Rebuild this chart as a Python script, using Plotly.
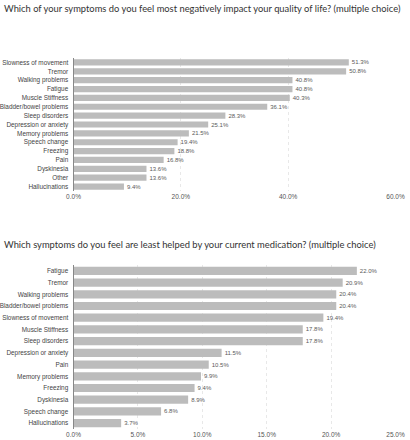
import plotly.graph_objects as go

title_top = "Which of your symptoms do you feel most negatively impact your quality of life? (multiple choice)"
cats_top = ["Slowness of movement", "Tremor", "Walking problems", "Fatigue", "Muscle Stiffness",
            "Bladder/bowel problems", "Sleep disorders", "Depression or anxiety", "Memory problems",
            "Speech change", "Freezing", "Pain", "Dyskinesia", "Other", "Hallucinations"]
vals_top = [51.3, 50.8, 40.8, 40.8, 40.3, 36.1, 28.3, 25.1, 21.5, 19.4, 18.8, 16.8, 13.6, 13.6, 9.4]
ticks_top = [0, 20, 40, 60]

title_bot = "Which symptoms do you feel are least helped by your current medication? (multiple choice)"
cats_bot = ["Fatigue", "Tremor", "Walking problems", "Bladder/bowel problems", "Slowness of movement",
            "Muscle Stiffness", "Sleep disorders", "Depression or anxiety", "Pain", "Memory problems",
            "Freezing", "Dyskinesia", "Speech change", "Hallucinations"]
vals_bot = [22.0, 20.9, 20.4, 20.4, 19.4, 17.8, 17.8, 11.5, 10.5, 9.9, 9.4, 8.9, 6.8, 3.7]
ticks_bot = [0, 5, 10, 15, 20, 25]

W, H = 410, 440
BAR = "#bcbcbc"
LBL = "Liberation Sans"

fig = go.Figure()
fig.add_trace(go.Bar(x=vals_top, y=cats_top, orientation="h", marker=dict(color=BAR, line=dict(width=0)),
                     text=[f"{v:.1f}%" for v in vals_top], textposition="outside",
                     textfont=dict(size=6, color="#5a5a5a", family=LBL), cliponaxis=False,
                     xaxis="x", yaxis="y", hoverinfo="skip"))
fig.add_trace(go.Bar(x=vals_bot, y=cats_bot, orientation="h", marker=dict(color=BAR, line=dict(width=0)),
                     text=[f"{v:.1f}%" for v in vals_bot], textposition="outside",
                     textfont=dict(size=6, color="#5a5a5a", family=LBL), cliponaxis=False,
                     xaxis="x2", yaxis="y2", hoverinfo="skip"))

x0, x1 = 73.5 / W, 395.5 / W
def ydom(top_px, bot_px):
    return [1 - bot_px / H, 1 - top_px / H]

axis_common = dict(showgrid=True, gridcolor="#e8e8e8", gridwidth=1, griddash="dot", zeroline=False,
                   ticks="", tickfont=dict(size=6.5, color="#555", family=LBL), showline=False,
                   automargin=False)
yaxis_common = dict(autorange="reversed", showgrid=False, automargin=False,
                    tickfont=dict(size=6.4, color="#444", family=LBL), ticks="", ticklabelstandoff=3,
                    showline=True, linecolor="#888", linewidth=1)
fig.update_layout(
    width=W, height=H, margin=dict(l=0, r=0, t=0, b=0), paper_bgcolor="white", plot_bgcolor="white",
    showlegend=False, bargap=0.3,
    xaxis=dict(domain=[x0, x1], anchor="y", range=[0, 60], tickvals=ticks_top,
               ticktext=[f"{t:.1f}%" for t in ticks_top], **axis_common),
    yaxis=dict(domain=ydom(58, 191), anchor="x", **yaxis_common),
    xaxis2=dict(domain=[x0, x1], anchor="y2", range=[0, 25], tickvals=ticks_bot,
                ticktext=[f"{t:.1f}%" for t in ticks_bot], **axis_common),
    yaxis2=dict(domain=ydom(265, 429), anchor="x2", **yaxis_common),
    annotations=[
        dict(text=title_top, x=2 / W, y=1 - 8 / H, xref="paper", yref="paper", xanchor="left", yanchor="middle",
             showarrow=False, font=dict(size=9.35, color="#333", family="Lato")),
        dict(text=title_bot, x=2 / W, y=1 - 245 / H, xref="paper", yref="paper", xanchor="left", yanchor="middle",
             showarrow=False, font=dict(size=9.35, color="#333", family="Lato")),
    ],
)
fig.write_html("out.html", config={"displayModeBar": False},
               post_script="document.body.style.margin='0';")
